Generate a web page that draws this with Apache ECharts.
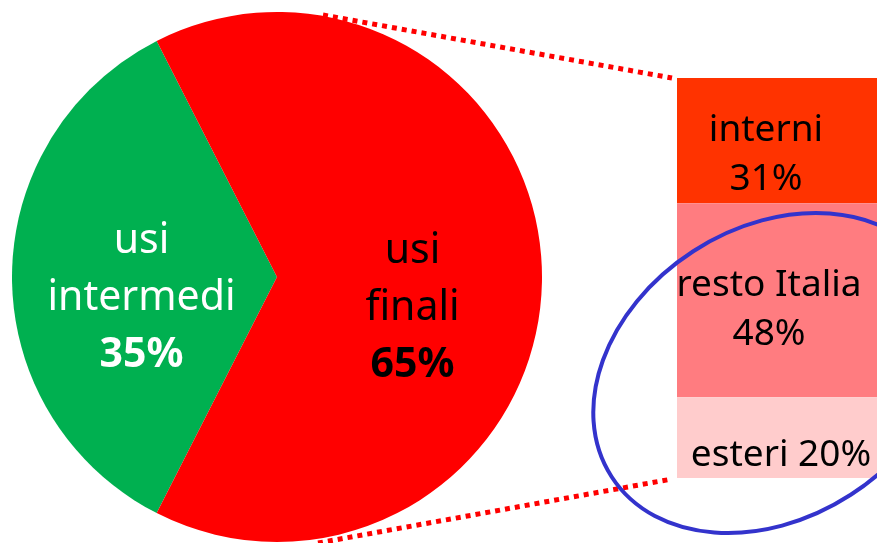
<!DOCTYPE html>
<html><head><meta charset="utf-8">
<script src="https://cdn.jsdelivr.net/npm/echarts@6/dist/echarts.min.js"></script>
<style>html,body{margin:0;padding:0;background:#fff;overflow:hidden}#c{width:877px;height:543px}</style>
</head><body><div id="c"></div>
<script>
// ---- data ----
const pieNames = ['usi\nintermedi', 'usi\nfinali'];
const pieValues = [35, 65];
const barCategory = ['usi finali'];
const barNames = ['interni', 'resto Italia', 'esteri'];
const barValues = [31, 48, 20];
const barLabelSep = ['\n', '\n', ' '];

// ---- styles ----
const pieColors = ['#00B050', '#FF0000'];
const pieTextColors = ['#FFFFFF', '#000000'];
const piePadding = [[42, 0, 0, 0], [62, 0, 0, 0]];
const barColors = ['#FF3300', '#FF7C80', '#FFCCCC'];
const barOffsets = [[-11, 14], [-8, 10], [4, 18]];
const FONT = '"Noto Sans", "DejaVu Sans", sans-serif';

const chart = echarts.init(document.getElementById('c'), null, {renderer: 'canvas'});

const total = barValues.reduce((a, b) => a + b, 0);

const pieData = pieNames.map((n, i) => ({
  name: n,
  value: pieValues[i],
  itemStyle: {color: pieColors[i], borderWidth: 0},
  label: {
    padding: piePadding[i],
    rich: {
      n: {fontFamily: FONT, fontSize: 41, lineHeight: 57, color: pieTextColors[i]},
      b: {fontFamily: FONT, fontSize: 41, lineHeight: 57, fontWeight: 'bold', color: pieTextColors[i]}
    }
  }
}));

const barSeries = barNames.map((n, i) => ({
  name: n,
  type: 'bar',
  stack: 'tot',
  xAxisIndex: 0,
  yAxisIndex: 0,
  barWidth: '100%',
  data: [barValues[i]],
  itemStyle: {color: barColors[i], borderWidth: 0},
  label: {
    show: true,
    position: 'inside',
    offset: barOffsets[i],
    formatter: () => n + barLabelSep[i] + barValues[i] + '%',
    fontFamily: FONT,
    fontSize: 37,
    lineHeight: 49,
    color: '#000',
    align: 'center'
  },
  silent: true
}));

chart.setOption({
  animation: false,
  backgroundColor: '#fff',
  grid: {left: 677, top: 78, width: 200, height: 400, containLabel: false},
  xAxis: {type: 'category', data: barCategory, show: false, boundaryGap: true},
  yAxis: {type: 'value', min: 0, max: total, inverse: true, show: false},
  series: [
    {
      type: 'pie',
      center: [277, 277],
      radius: 265,
      startAngle: 243,
      clockwise: true,
      silent: true,
      label: {
        show: true,
        position: 'inside',
        align: 'center',
        formatter: p => p.name.split('\n').map(s => '{n|' + s + '}').join('\n') + '\n{b|' + p.value + '%}'
      },
      labelLine: {show: false},
      data: pieData
    }
  ].concat(barSeries),
  graphic: [
    {type: 'line', z: 100, shape: {x1: 323, y1: 15, x2: 672, y2: 78},
     style: {stroke: '#FF0000', lineWidth: 5, lineDash: [5, 5]}},
    {type: 'line', z: 100, shape: {x1: 318, y1: 543, x2: 672, y2: 479},
     style: {stroke: '#FF0000', lineWidth: 5, lineDash: [5, 5]}},
    {type: 'ellipse', z: 100, x: 772, y: 373, rotation: 0.574,
     shape: {cx: 0, cy: 0, rx: 191, ry: 145},
     style: {fill: 'none', stroke: '#3333CC', lineWidth: 4}}
  ]
});
</script></body></html>
